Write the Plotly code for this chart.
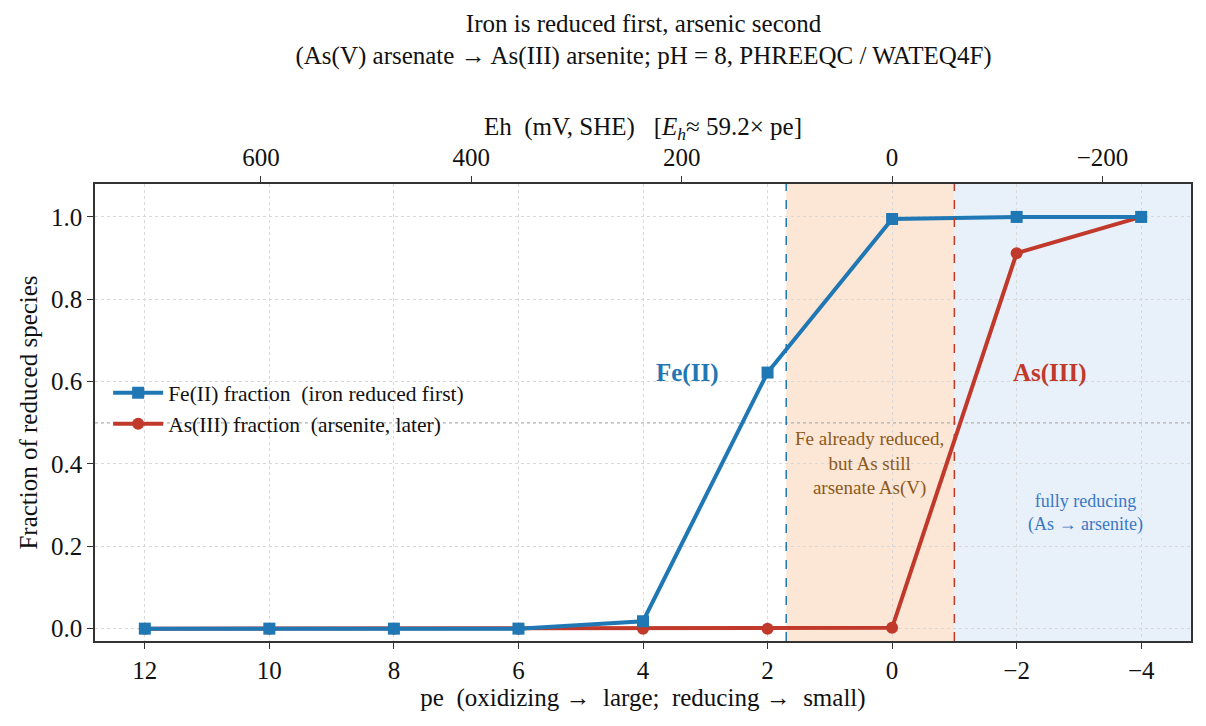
import plotly.graph_objects as go

# pe steps and the reduced fractions
pe = [12, 10, 8, 6, 4, 2, 0, -2, -4]
fe_frac = [0.0, 0.0, 0.0, 0.0, 0.018, 0.622, 0.995, 1.0, 1.0]
as_frac = [0.0, 0.0, 0.0, 0.0, 0.0, 0.0, 0.002, 0.912, 1.0]

eh_ticks = [600, 400, 200, 0, -200]
pe_ticks = [12, 10, 8, 6, 4, 2, 0, -2, -4]
y_ticks = [0.0, 0.2, 0.4, 0.6, 0.8, 1.0]

fe_edge = 1.7    # Fe(II) half-way
as_edge = -1.0   # As(III) half-way
EH_PER_PE = 59.2

pe_range = [12.8, -4.8]
FONT = "Liberation Serif"
BLUE = "#1f77b4"
RED = "#c0392b"
NB = "\u00a0"

fig = go.Figure()

fig.add_trace(go.Scatter(
    x=pe, y=as_frac, mode="lines+markers",
    name="As(III) fraction" + NB * 2 + "(arsenite, later)",
    line=dict(color=RED, width=4),
    marker=dict(symbol="circle", size=12, color=RED),
    legendrank=2))
fig.add_trace(go.Scatter(
    x=pe, y=fe_frac, mode="lines+markers",
    name="Fe(II) fraction" + NB * 2 + "(iron reduced first)",
    line=dict(color=BLUE, width=4),
    marker=dict(symbol="square", size=12, color=BLUE),
    legendrank=1))

# invisible trace so the Eh axis on top gets drawn
fig.add_trace(go.Scatter(
    x=[pe_range[0] * EH_PER_PE, pe_range[1] * EH_PER_PE], y=[0, 0],
    xaxis="x2", mode="markers", marker=dict(opacity=0),
    showlegend=False, hoverinfo="skip"))

# shaded zones and marker lines
fig.add_shape(type="rect", xref="x", yref="paper", x0=fe_edge, x1=as_edge,
              y0=0, y1=1, fillcolor="#fce6d6", line_width=0, layer="below")
fig.add_shape(type="rect", xref="x", yref="paper", x0=as_edge, x1=pe_range[1],
              y0=0, y1=1, fillcolor="#e8f0fa", line_width=0, layer="below")
fig.add_shape(type="line", xref="x", yref="paper", x0=fe_edge, x1=fe_edge,
              y0=0, y1=1, line=dict(color=BLUE, width=1.5, dash="dash"))
fig.add_shape(type="line", xref="x", yref="paper", x0=as_edge, x1=as_edge,
              y0=0, y1=1, line=dict(color=RED, width=1.5, dash="dash"))
fig.add_shape(type="line", xref="paper", yref="y", x0=0, x1=1, y0=0.5, y1=0.5,
              line=dict(color="#b0b0b0", width=1.2, dash="dot"), layer="below")

fig.add_annotation(x=3.3, y=0.62, text="<b>Fe(II)</b>", showarrow=False,
                   font=dict(family=FONT, size=25, color=BLUE))
fig.add_annotation(x=-2.53, y=0.62, text="<b>As(III)</b>", showarrow=False,
                   font=dict(family=FONT, size=25, color=RED))
fig.add_annotation(x=0.36, y=0.40,
                   text="Fe already reduced,<br>but As still<br>arsenate As(V)",
                   showarrow=False, font=dict(family=FONT, size=19, color="#8b5a1b"))
fig.add_annotation(x=-3.1, y=0.28,
                   text="fully reducing<br>(As \u2192 arsenite)",
                   showarrow=False, font=dict(family=FONT, size=18, color="#3a78c4"))

fig.update_layout(
    width=1206, height=726,
    margin=dict(l=87, r=23, t=176, b=93),
    paper_bgcolor="white", plot_bgcolor="white",
    font=dict(family=FONT, size=23, color="#111111"),
    title=dict(
        text="Iron is reduced first, arsenic second<br>"
             "(As(V) arsenate \u2192 As(III) arsenite; pH = 8, PHREEQC / WATEQ4F)",
        x=0.527, xanchor="center", y=0.967, yanchor="top",
        font=dict(family=FONT, size=25)),
    legend=dict(x=0.012, y=0.588, xanchor="left", yanchor="top",
                bgcolor="rgba(255,255,255,0)", font=dict(family=FONT, size=21.5),
                itemwidth=50),
    xaxis=dict(
        range=pe_range, tickvals=pe_ticks,
        tickfont=dict(family=FONT, size=25),
        title=dict(text="pe" + NB * 2 + "(oxidizing \u2192" + NB * 2 + "large;"
                   + NB * 2 + "reducing \u2192" + NB * 2 + "small)", standoff=4,
                   font=dict(family=FONT, size=25)),
        showgrid=True, gridcolor="#d8d8d8", griddash="dot", gridwidth=1,
        showline=True, linecolor="#333333", linewidth=1.5, mirror=True,
        ticks="outside", ticklen=6, tickcolor="#333333", zeroline=False),
    xaxis2=dict(
        range=[pe_range[0] * EH_PER_PE, pe_range[1] * EH_PER_PE],
        overlaying="x", side="top", tickvals=eh_ticks,
        tickfont=dict(family=FONT, size=25),
        title=dict(text="Eh" + NB * 2 + "(mV, SHE)" + NB * 3
                   + "[<i>E<sub>h</sub></i>\u2248 59.2\u00d7 pe]",
                   standoff=0, font=dict(family=FONT, size=25)),
        showgrid=False, zeroline=False,
        showline=True, linecolor="#333333", linewidth=1.5,
        ticks="outside", ticklen=6, tickcolor="#333333"),
    yaxis=dict(
        range=[-0.03, 1.08], tickvals=y_ticks, tickformat=".1f",
        tickfont=dict(family=FONT, size=25),
        title=dict(text="Fraction of reduced species", standoff=6,
                   font=dict(family=FONT, size=25)),
        showgrid=True, gridcolor="#d8d8d8", griddash="dot", gridwidth=1,
        showline=True, linecolor="#333333", linewidth=1.5, mirror=True,
        ticks="outside", ticklen=6, tickcolor="#333333", zeroline=False),
)

fig.write_html("out.html")
